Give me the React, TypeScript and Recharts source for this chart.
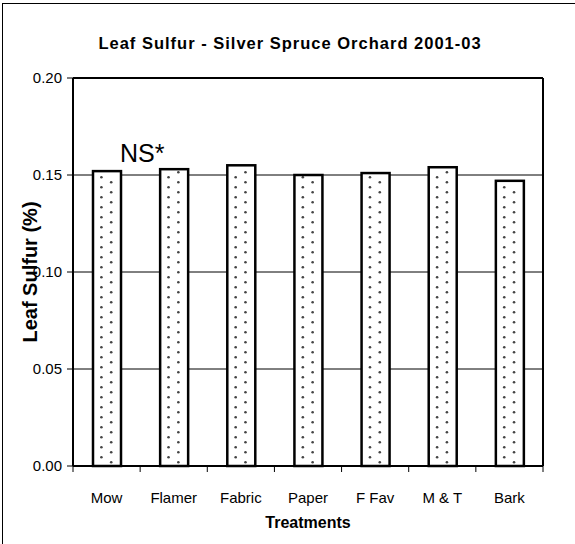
import React from 'react';
import { BarChart, Bar, XAxis, YAxis, CartesianGrid, ReferenceLine } from 'recharts';

const categories = ['Mow', 'Flamer', 'Fabric', 'Paper', 'F Fav', 'M & T', 'Bark'];
const sulfurPct = [0.152, 0.153, 0.155, 0.15, 0.151, 0.154, 0.147];
const yTicks = [0, 0.05, 0.1, 0.15, 0.2];

const data = categories.map((name, i) => ({ name, sulfur: sulfurPct[i] }));

const FONT = '"Liberation Sans", Arial, sans-serif';

// bar with white fill, thick outline and two staggered columns of grey dots
function DottedBar(props: any) {
  const { x, y, width, height } = props;
  if (!height || height <= 0) return null;
  const bottom = y + height;
  const dots: React.ReactNode[] = [];
  for (let d = 3.7; d < height - 2; d += 10) {
    dots.push(<circle key={'b' + d} cx={x + width * 0.65} cy={bottom - d} r={1.3} fill="#444" />);
  }
  for (let d = 8.7; d < height - 2; d += 10) {
    dots.push(<circle key={'a' + d} cx={x + width * 0.3} cy={bottom - d} r={1.3} fill="#444" />);
  }
  return (
    <g>
      <rect x={x} y={y} width={width} height={height} fill="#fff" />
      {dots}
      <rect x={x} y={y} width={width} height={height} fill="none" stroke="#000" strokeWidth={2.5} />
    </g>
  );
}

// category label plus tick marks on the band edges
function TreatmentTick(props: any) {
  const { x, y, payload, index, visibleTicksCount, width } = props;
  const bw = (width || 470) / (visibleTicksCount || categories.length);
  const last = index === (visibleTicksCount || categories.length) - 1;
  return (
    <g>
      <line x1={x - bw / 2} y1={y} x2={x - bw / 2} y2={y + 6} stroke="#000" strokeWidth={1} />
      {last && <line x1={x + bw / 2} y1={y} x2={x + bw / 2} y2={y + 6} stroke="#000" strokeWidth={1} />}
      <text x={x} y={y + 37} textAnchor="middle" fontSize={15} fill="#000" fontFamily={FONT}>
        {payload.value}
      </text>
    </g>
  );
}

export default function App() {
  return (
    <div style={{ position: 'absolute', left: 0, top: 0, width: 575, height: 544, overflow: 'hidden', background: '#fff' }}>
      <div style={{ position: 'absolute', left: 2, top: 3, width: 620, height: 620, border: '1.5px solid #000' }} />
      <div
        style={{
          position: 'absolute', left: 0, top: 33, width: 580, textAlign: 'center',
          fontFamily: FONT, fontWeight: 'bold', fontSize: 16.5, letterSpacing: 1, lineHeight: '20px',
        }}
      >
        Leaf Sulfur - Silver Spruce Orchard 2001-03
      </div>
      <div
        style={{
          position: 'absolute', left: 120, top: 139, fontFamily: FONT, fontSize: 25, lineHeight: '28px',
        }}
      >
        NS*
      </div>
      <div style={{ position: 'absolute', left: 0, top: 0 }}>
        <BarChart width={575} height={544} data={data} margin={{ top: 78, right: 31, bottom: 18, left: 13 }}>
          <CartesianGrid vertical={false} stroke="#000" strokeWidth={1} />
          <XAxis
            dataKey="name"
            height={60}
            tickLine={false}
            tickSize={0}
            tickMargin={0}
            axisLine={{ stroke: '#000', strokeWidth: 2 }}
            tick={<TreatmentTick />}
            interval={0}
            label={(p: any) => {
              const vb = p.viewBox;
              return (
                <text x={vb.x + vb.width / 2} y={vb.y + 62} textAnchor="middle" fontSize={16} fontWeight="bold" fontFamily={FONT} fill="#000">
                  Treatments
                </text>
              );
            }}
          />
          <YAxis
            domain={[0, 0.2]}
            ticks={yTicks}
            width={60}
            tickSize={6}
            tickMargin={5}
            interval={0}
            tickFormatter={(v: number) => v.toFixed(2)}
            tick={{ fill: '#000', fontSize: 15, fontFamily: FONT }}
            tickLine={{ stroke: '#000' }}
            axisLine={{ stroke: '#000', strokeWidth: 2 }}
            label={(p: any) => {
              const vb = p.viewBox;
              const cy = vb.y + vb.height / 2;
              return (
                <text x={37} y={cy} transform={`rotate(-90 37 ${cy})`} textAnchor="middle" fontSize={20} fontWeight="bold" fontFamily={FONT} fill="#000">
                  Leaf Sulfur (%)
                </text>
              );
            }}
          />
          <YAxis yAxisId="r" orientation="right" width={1} domain={[0, 0.2]} tick={false} tickLine={false} axisLine={{ stroke: '#000', strokeWidth: 2 }} />
          <ReferenceLine y={0.2} stroke="#000" strokeWidth={2} />
          <Bar dataKey="sulfur" barSize={28} shape={<DottedBar />} isAnimationActive={false} />
        </BarChart>
      </div>
    </div>
  );
}
